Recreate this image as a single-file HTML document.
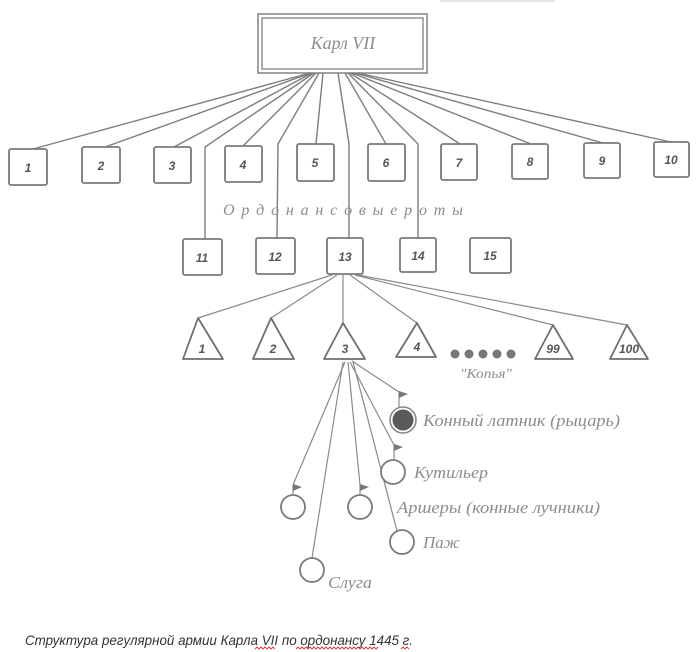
<!DOCTYPE html>
<html>
<head>
<meta charset="utf-8">
<style>
html,body{margin:0;padding:0;background:#fff;}
svg{display:block;}
.bx{fill:#fff;stroke:#7a7a7a;stroke-width:1.8;}
.ln{stroke:#8a8a8a;stroke-width:1.2;fill:none;}
.lt{stroke:#7e7e7e;stroke-width:1.4;fill:none;}
.num{font-family:"Liberation Sans",sans-serif;font-style:italic;font-weight:bold;font-size:12px;fill:#555;text-anchor:middle;}
.lbl{font-family:"Liberation Serif","Noto Serif CJK SC",serif;font-style:italic;fill:#8c8c8c;}
.tri{fill:#fff;stroke:#6f6f6f;stroke-width:1.8;stroke-linejoin:round;}
.cir{fill:#fff;stroke:#7a7a7a;stroke-width:1.8;}
.flag{fill:#777;stroke:none;}
</style>
</head>
<body>
<svg width="700" height="652" viewBox="0 0 700 652" xmlns="http://www.w3.org/2000/svg">
<rect x="0" y="0" width="700" height="652" fill="#fff"/>
<rect x="440" y="0" width="115" height="2" fill="#e6e6e6"/>

<!-- top box -->
<rect x="258" y="14" width="169" height="59" fill="#fff" stroke="#8a8a8a" stroke-width="1.6"/>
<rect x="262" y="18" width="161" height="51" fill="none" stroke="#8a8a8a" stroke-width="1.4"/>
<text x="343" y="49" class="lbl" font-size="18" text-anchor="middle">Карл VII</text>

<!-- lines from top box -->
<line class="lt" x1="310" y1="73" x2="33" y2="149"/>
<line class="lt" x1="311" y1="73" x2="105" y2="147"/>
<line class="lt" x1="312" y1="73" x2="174" y2="147"/>
<polyline class="lt" points="314,73 205,147 205,239"/>
<line class="lt" x1="316" y1="73" x2="243" y2="146"/>
<polyline class="lt" points="319,73 278,144 277,238"/>
<line class="lt" x1="323" y1="73" x2="316" y2="144"/>
<polyline class="lt" points="338,73 349,144 349,238"/>
<line class="lt" x1="345" y1="73" x2="386" y2="144"/>
<polyline class="lt" points="348,73 418,144 418,238"/>
<line class="lt" x1="350" y1="73" x2="460" y2="144"/>
<line class="lt" x1="352" y1="73" x2="531" y2="144"/>
<line class="lt" x1="355" y1="73" x2="603" y2="143"/>
<line class="lt" x1="358" y1="73" x2="671" y2="142"/>

<!-- row 1 boxes -->
<rect class="bx" x="9" y="149" width="38" height="36" rx="2"/><text class="num" x="28" y="172">1</text>
<rect class="bx" x="82" y="147" width="38" height="36" rx="2"/><text class="num" x="101" y="170">2</text>
<rect class="bx" x="154" y="147" width="37" height="36" rx="2"/><text class="num" x="172" y="170">3</text>
<rect class="bx" x="225" y="146" width="37" height="36" rx="2"/><text class="num" x="243" y="169">4</text>
<rect class="bx" x="297" y="144" width="37" height="37" rx="2"/><text class="num" x="315" y="167">5</text>
<rect class="bx" x="368" y="144" width="37" height="37" rx="2"/><text class="num" x="386" y="167">6</text>
<rect class="bx" x="441" y="144" width="36" height="36" rx="2"/><text class="num" x="459" y="167">7</text>
<rect class="bx" x="512" y="144" width="36" height="35" rx="2"/><text class="num" x="530" y="166">8</text>
<rect class="bx" x="584" y="143" width="36" height="35" rx="2"/><text class="num" x="602" y="165">9</text>
<rect class="bx" x="654" y="142" width="35" height="35" rx="2"/><text class="num" x="671" y="164">10</text>

<text x="223" y="215" class="lbl" font-size="16" textLength="240" lengthAdjust="spacing">О р д о н а н с о в ы е   р о т ы</text>

<!-- row 2 boxes -->
<rect class="bx" x="183" y="239" width="39" height="36" rx="2"/><text class="num" x="202" y="262">11</text>
<rect class="bx" x="256" y="238" width="39" height="36" rx="2"/><text class="num" x="275" y="261">12</text>
<rect class="bx" x="327" y="238" width="36" height="36" rx="2"/><text class="num" x="345" y="261">13</text>
<rect class="bx" x="400" y="238" width="36" height="34" rx="2"/><text class="num" x="418" y="260">14</text>
<rect class="bx" x="470" y="238" width="41" height="35" rx="2"/><text class="num" x="490" y="260">15</text>

<!-- lines from 13 to triangles -->
<line class="ln" x1="332" y1="275" x2="198" y2="318"/>
<line class="ln" x1="337" y1="275" x2="271" y2="318"/>
<line class="ln" x1="343" y1="275" x2="343" y2="323"/>
<line class="ln" x1="350" y1="275" x2="417" y2="323"/>
<line class="ln" x1="355" y1="275" x2="553" y2="325"/>
<line class="ln" x1="358" y1="275" x2="627" y2="325"/>

<!-- triangles -->
<polygon class="tri" points="198,318 183,359 223,359"/><text class="num" x="202" y="353">1</text>
<polygon class="tri" points="271,318 253,359 294,359"/><text class="num" x="273" y="353">2</text>
<polygon class="tri" points="343,323 324,359 365,359"/><text class="num" x="345" y="353">3</text>
<polygon class="tri" points="417,323 396,357 436,357"/><text class="num" x="417" y="351">4</text>
<polygon class="tri" points="553,325 535,359 573,359"/><text class="num" x="553" y="353" font-size="13">99</text>
<polygon class="tri" points="627,325 610,359 648,359"/><text class="num" x="629" y="353" font-size="13">100</text>

<!-- dots -->
<circle cx="455" cy="354" r="4.5" fill="#777"/>
<circle cx="469" cy="354" r="4.5" fill="#777"/>
<circle cx="483" cy="354" r="4.5" fill="#777"/>
<circle cx="497" cy="354" r="4.5" fill="#777"/>
<circle cx="511" cy="354" r="4.5" fill="#777"/>
<text x="460" y="378" class="lbl" font-size="14" textLength="52" lengthAdjust="spacingAndGlyphs">"Копья"</text>

<!-- lines from triangle 3 -->
<line class="ln" x1="352" y1="361" x2="399" y2="392"/>
<line class="ln" x1="350" y1="362" x2="394" y2="445"/>
<line class="ln" x1="345" y1="362" x2="293" y2="485"/>
<line class="ln" x1="348" y1="362" x2="360" y2="485"/>
<line class="ln" x1="353" y1="362" x2="397" y2="531"/>
<line class="ln" x1="343" y1="362" x2="312" y2="558"/>

<!-- knight -->
<line class="ln" x1="399" y1="392" x2="399" y2="408" stroke-width="1.6"/>
<polygon class="flag" points="399,391 408,394 399,398"/>
<circle cx="403" cy="420" r="13" fill="#fff" stroke="#888" stroke-width="1.6"/>
<circle cx="403" cy="420" r="10.5" fill="#5a5a5a"/>
<text x="423" y="426" class="lbl" font-size="17" textLength="197" lengthAdjust="spacingAndGlyphs">Конный латник (рыцарь)</text>

<!-- kutilier -->
<line class="ln" x1="394" y1="445" x2="394" y2="460" stroke-width="1.6"/>
<polygon class="flag" points="394,444 403,447 394,451"/>
<circle class="cir" cx="393" cy="472" r="12"/>
<text x="414" y="478" class="lbl" font-size="17" textLength="74" lengthAdjust="spacingAndGlyphs">Кутильер</text>

<!-- archers -->
<line class="ln" x1="293" y1="485" x2="293" y2="495" stroke-width="1.6"/>
<polygon class="flag" points="293,484 302,487 293,491"/>
<circle class="cir" cx="293" cy="507" r="12"/>
<line class="ln" x1="360" y1="485" x2="360" y2="495" stroke-width="1.6"/>
<polygon class="flag" points="360,484 369,487 360,491"/>
<circle class="cir" cx="360" cy="507" r="12"/>
<text x="397" y="513" class="lbl" font-size="17" textLength="203" lengthAdjust="spacingAndGlyphs">Аршеры (конные лучники)</text>

<!-- page -->
<circle class="cir" cx="402" cy="542" r="12"/>
<text x="423" y="548" class="lbl" font-size="17">Паж</text>

<!-- servant -->
<circle class="cir" cx="312" cy="570" r="12"/>
<text x="328" y="588" class="lbl" font-size="17" textLength="44" lengthAdjust="spacingAndGlyphs">Слуга</text>

<!-- caption -->
<text x="25" y="645" font-family="'Liberation Sans',sans-serif" font-style="italic" font-size="14" fill="#333" textLength="388" lengthAdjust="spacingAndGlyphs">Структура регулярной армии Карла VII по ордонансу 1445 г.</text>
<polyline points="255,649 257,647 259,649 261,647 263,649 265,647 267,649 269,647 271,649 273,647 275,649" fill="none" stroke="#d33" stroke-width="0.9"/>
<polyline points="296,649 298,647 300,649 302,647 304,649 306,647 308,649 310,647 312,649 314,647 316,649 318,647 320,649 322,647 324,649 326,647 328,649 330,647 332,649 334,647 336,649 338,647 340,649 342,647 344,649 346,647 348,649 350,647 352,649 354,647 356,649 358,647 360,649 362,647 364,649 366,647 368,649 370,647 372,649 374,647 376,649 378,647" fill="none" stroke="#d33" stroke-width="0.9"/>
<polyline points="401,649 403,647 405,649 407,647 409,649" fill="none" stroke="#d33" stroke-width="0.9"/>
</svg>
</body>
</html>
